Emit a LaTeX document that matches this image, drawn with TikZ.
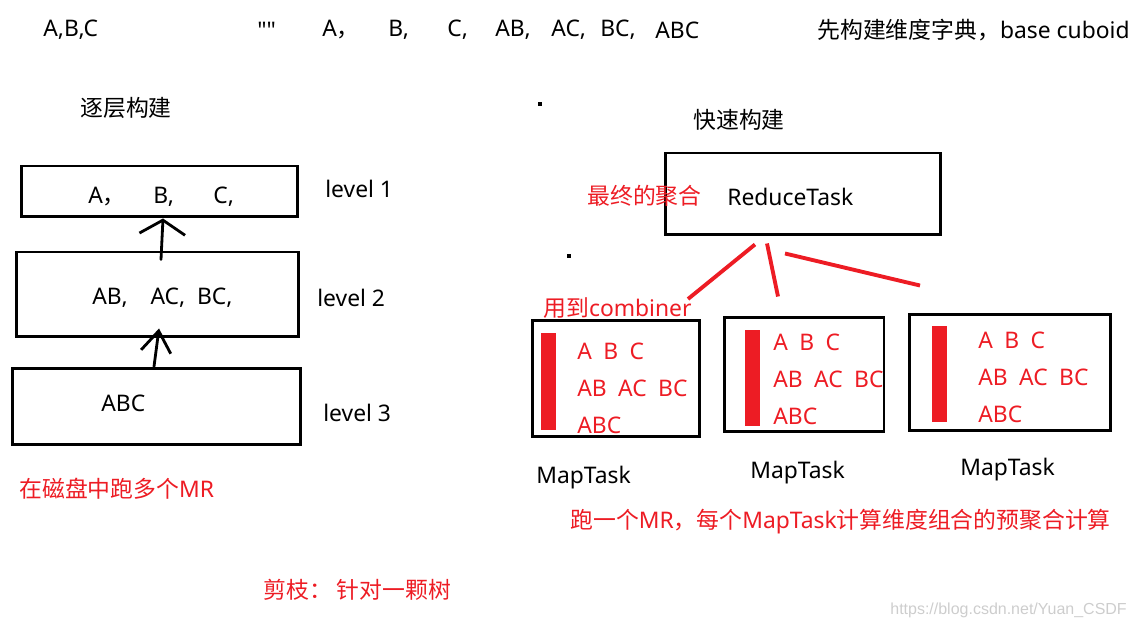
\documentclass[tikz,border=0pt]{standalone}
\usepackage{fontspec}
\setmainfont{Noto Sans}[Ligatures=TeXOff]
\newfontfamily\cjk{Noto Sans CJK SC}
\newfontfamily\wmfont{Liberation Sans}
\usepackage{tikz}
\usetikzlibrary{arrows.meta, positioning, calc}
\definecolor{myred}{RGB}{237,28,36}
\definecolor{mygrey}{RGB}{205,205,205}
\newcommand{\zh}[1]{{\cjk #1}}
\tikzset{
  box/.style={rectangle, draw=black, line width=1.7pt, inner sep=0pt},
  redbar/.style={rectangle, fill=myred, inner sep=0pt,
    minimum width=0.3cm, minimum height=1.94cm},
  txt/.style={anchor=west, inner sep=0pt, font=\fontsize{13}{15}\selectfont},
  redtxt/.style={txt, text=myred},
  celltxt/.style={redtxt, align=left, font=\fontsize{13}{21}\selectfont},
  uparrow/.style={line width=1.6pt, line cap=round,
    -{Straight Barb[length=8pt,width=26pt]}},
  redline/.style={myred, line width=2.2pt}
}

\begin{document}
\begin{tikzpicture}[x=0.02cm, y=-0.02cm]
  \useasboundingbox (0,0) rectangle (1136,631);
  % top row
  \node[txt] (abc) at (43,30) {A,B,C};
  \foreach \px/\t [count=\i] in {257/{""}, 322/{A\zh{，}}, 388/{B,}, 447/{C,},
      495/{AB,}, 551/{AC,}, 600/{BC,}, 655/{ABC}}
    \node[txt] (set\i) at (\px,30) {\t};
  \node[txt] (dict) at (817,30) {\zh{先构建维度字典，}base cuboid};

  % level by level
  \node[txt] (zhl) at (80,108) {\zh{逐层构建}};
  \node[box, minimum width=5.54cm, minimum height=1.02cm] (lvone) at (159.5,191.5) {};
  \node[box, minimum width=5.66cm, minimum height=1.7cm] (lvtwo) at (157.5,294.5) {};
  \node[box, minimum width=5.78cm, minimum height=1.54cm] (lvthree) at (156.5,406.5) {};
  \node[txt] (a1) at (88,197) {A\zh{，}};
  \node[txt] (b1) at (153,197) {B,};
  \node[txt] (c1) at (213,197) {C,};
  \node[txt] (pairs) at (92,298) {AB,\quad AC,\ \ BC,};
  \node[txt] (all) at (101,403) {ABC};
  \node[txt] (lv1) at (325,189) {level 1};
  \node[txt] (lv2) at (317,298) {level 2};
  \node[txt] (lv3) at (323,413) {level 3};
  \draw[uparrow] ([xshift=0.07cm,yshift=-0.18cm]lvtwo.north) -- ([xshift=0.07cm]lvone.south);
  \draw[uparrow, -{Straight Barb[length=12pt,width=17pt]}]
    ([xshift=-0.05cm]lvthree.north) -- ([xshift=0.03cm,yshift=0.2cm]lvtwo.south);
  \node[redtxt] (disk) at (19,489) {\zh{在磁盘中跑多个}MR};
  \node[redtxt] (prune) at (263,590) {\zh{剪枝：\ 针对一颗树}};
  \fill (538,102) rectangle (542,106);
  \fill (567,254) rectangle (571,258);

  % fast build
  \node[txt] (zhr) at (693,120) {\zh{快速构建}};
  \node[box, minimum width=5.52cm, minimum height=1.64cm] (reduce) at (803,194) {};
  \node[txt] (rt) at (727,197) {ReduceTask};
  \node[redtxt] (final) at (587,196) {\zh{最终的聚合}};
  \node[box, minimum width=3.36cm, minimum height=2.34cm] (mapa) at (616,378.5) {};
  \node[box, minimum width=3.2cm, minimum height=2.3cm] (mapb) at (804,374.5) {};
  \node[box, minimum width=4.04cm, minimum height=2.34cm] (mapc) at (1010,372.5) {};
  \node[redbar] (bara) at (548.5,381.5) {};
  \node[redbar] (barb) at (752.5,378) {};
  \node[redbar] (barc) at (939,374) {};
  \node[celltxt] (cella) at (577,388) {A\enspace B\enspace C\\AB\enspace AC\enspace BC\\ABC};
  \node[celltxt] (cellb) at (773,379) {A\enspace B\enspace C\\AB\enspace AC\enspace BC\\ABC};
  \node[celltxt] (cellc) at (978,377) {A\enspace B\enspace C\\AB\enspace AC\enspace BC\\ABC};
  \node[txt] (mta) at (536,478) {MapTask};
  \node[txt] (mtb) at (750,473) {MapTask};
  \node[txt] (mtc) at (960,470) {MapTask};
  \draw[redline] ([shift={(-48,8)}]reduce.south) -- ([shift={(72,-19.5)}]mapa.north);
  \draw[redline] ([shift={(-36,7)}]reduce.south) -- ([shift={(-26,-19)}]mapb.north);
  \draw[redline] ([shift={(-18,17)}]reduce.south) -- ([shift={(-90,-27)}]mapc.north);
  \node[redtxt] (comb) at (543,308) {\zh{用到}combiner};
  \node[redtxt] (onemr) at (570,522) {\zh{跑一个}MR\zh{，每个}MapTask\zh{计算维度组合的预聚合计算}};
  \node[anchor=west, inner sep=0pt, text=mygrey, font=\wmfont\fontsize{9.1}{11}\selectfont]
    (wm) at (890,610) {https://blog.csdn.net/Yuan\_CSDF};
\end{tikzpicture}
\end{document}
